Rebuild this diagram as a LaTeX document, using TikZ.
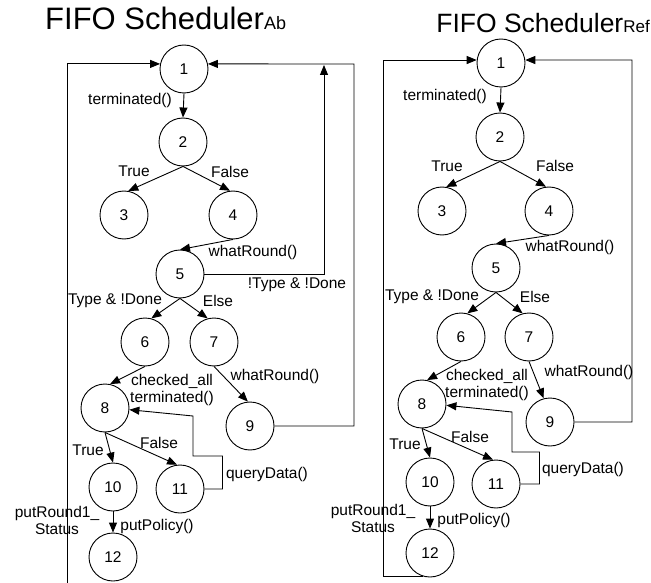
\documentclass[tikz,border=0pt]{standalone}
\usepackage{fontspec}
\setmainfont{Liberation Sans}
\usetikzlibrary{arrows.meta}
\begin{document}
\begin{tikzpicture}[x=1pt,y=-1pt,
  st/.style={circle,draw,line width=0.9pt,minimum size=48pt,inner sep=0pt,font=\fontsize{15.5}{17}\selectfont},
  lbl/.style={inner sep=0pt,font=\fontsize{15.5}{17}\selectfont,align=center},
  con/.style={line width=0.9pt},
  arr/.style={con,-{Triangle[length=10pt,width=8pt]}},
  ttl/.style={inner sep=0pt}
]
\useasboundingbox (0,0) rectangle (651,583);
% titles
\node[ttl,anchor=base west] (tA) at (45,30) {\fontsize{31}{33}\selectfont FIFO Scheduler{\fontsize{18}{20}\selectfont Ab}};
\node[ttl,anchor=base east] (tR) at (650,33) {\fontsize{26.5}{29}\selectfont FIFO Scheduler{\fontsize{17}{19}\selectfont Ref}};

% ===== left diagram =====
\node[st] (a1) at (184,69) {1};
\node[st] (a2) at (183,142) {2};
\node[st] (a3) at (124,215) {3};
\node[st] (a4) at (233,215) {4};
\node[st] (a5) at (180,274) {5};
\node[st] (a6) at (145,342) {6};
\node[st] (a7) at (214,342) {7};
\node[st] (a8) at (105,408) {8};
\node[st] (a9) at (250,426) {9};
\node[st] (a10) at (113,487) {10};
\node[st] (a11) at (180,489) {11};
\node[st] (a12) at (113,557) {12};

\draw[arr] (a1.south) -- (a2.north);
\draw[arr] (a2.south) -- (a3.80);
\draw[arr] (a2.south) -- (a4.97);
\draw[arr] (a4.south) -- (a5.north);
\draw[arr] (a5.south) -- (a6.75);
\draw[arr] (a5.south) -- (a7.105);
\draw[arr] (a6.south) -- (a8.78);
\draw[arr] (a7.south) -- (a9.95);
\draw[arr] (a8.south) -- (a10.north);
\draw[arr] (a8.south) -- (a11.97);
\draw[arr] (a10.south) -- (a12.north);
\draw[arr] (a11.east) -- ++(18,0) |- (193,456) -- (193,416) -- (a8.-4);
\coordinate (abot) at (67,583);
\draw[arr] (abot) |- (a1.168);
\draw[arr] (a5.east) -| (324,65);
\draw[arr] (a9.east) -| (354,64) -- (a1.12);

\node[lbl] (la1) at (130,100) {terminated()};
\node[lbl] (la2) at (134,171) {True};
\node[lbl] (la3) at (230,172) {False};
\node[lbl] (la4) at (253,252) {whatRound()};
\node[lbl] (la5) at (297,285) {!Type \& !Done};
\node[lbl] (la6) at (115,301) {Type \& !Done};
\node[lbl] (la7) at (218,301) {Else};
\node[lbl] (la8) at (172,390) {checked\_all\\terminated()};
\node[lbl] (la9) at (275,376) {whatRound()};
\node[lbl] (la10) at (88,450) {True};
\node[lbl] (la11) at (159,443) {False};
\node[lbl] (la12) at (267,474) {queryData()};
\node[lbl] (la13) at (57,520) {putRound1\_\\Status};
\node[lbl] (la14) at (157,526) {putPolicy()};

% ===== right diagram =====
\node[st] (b1) at (501,63) {1};
\node[st] (b2) at (500,137) {2};
\node[st] (b3) at (442,211) {3};
\node[st] (b4) at (549,211) {4};
\node[st] (b5) at (496,268) {5};
\node[st] (b6) at (461,337) {6};
\node[st] (b7) at (529,337) {7};
\node[st] (b8) at (422,404) {8};
\node[st] (b9) at (550,422) {9};
\node[st] (b10) at (430,482) {10};
\node[st] (b11) at (496,484) {11};
\node[st] (b12) at (430,553) {12};

\draw[arr] (b1.south) -- (b2.north);
\draw[arr] (b2.south) -- (b3.80);
\draw[arr] (b2.south) -- (b4.97);
\draw[arr] (b4.south) -- (b5.north);
\draw[arr] (b5.south) -- (b6.75);
\draw[arr] (b5.south) -- (b7.105);
\draw[arr] (b6.south) -- (b8.78);
\draw[arr] (b7.south) -- (b9.105);
\draw[arr] (b8.south) -- (b10.north);
\draw[arr] (b8.south) -- (b11.97);
\draw[arr] (b10.south) -- (b12.north);
\draw[arr] (b11.east) -- ++(19,0) |- (512,452) -- (512,412) -- (b8.-3);
\draw[arr] (b12.254) -- ++(-40,0) |- (b1.173);
\draw[arr] (b9.east) -| (632,60) -- (b1.7);

\node[lbl] (lb1) at (445,96) {terminated()};
\node[lbl] (lb2) at (447,166) {True};
\node[lbl] (lb3) at (555,166) {False};
\node[lbl] (lb4) at (570,247) {whatRound()};
\node[lbl] (lb6) at (432,297) {Type \& !Done};
\node[lbl] (lb7) at (535,297) {Else};
\node[lbl] (lb8) at (487,385) {checked\_all\\terminated()};
\node[lbl] (lb9) at (589,372) {whatRound()};
\node[lbl] (lb10) at (405,444) {True};
\node[lbl] (lb11) at (470,437) {False};
\node[lbl] (lb12) at (583,469) {queryData()};
\node[lbl] (lb13) at (373,518) {putRound1\_\\Status};
\node[lbl] (lb14) at (474,520) {putPolicy()};
\end{tikzpicture}
\end{document}
